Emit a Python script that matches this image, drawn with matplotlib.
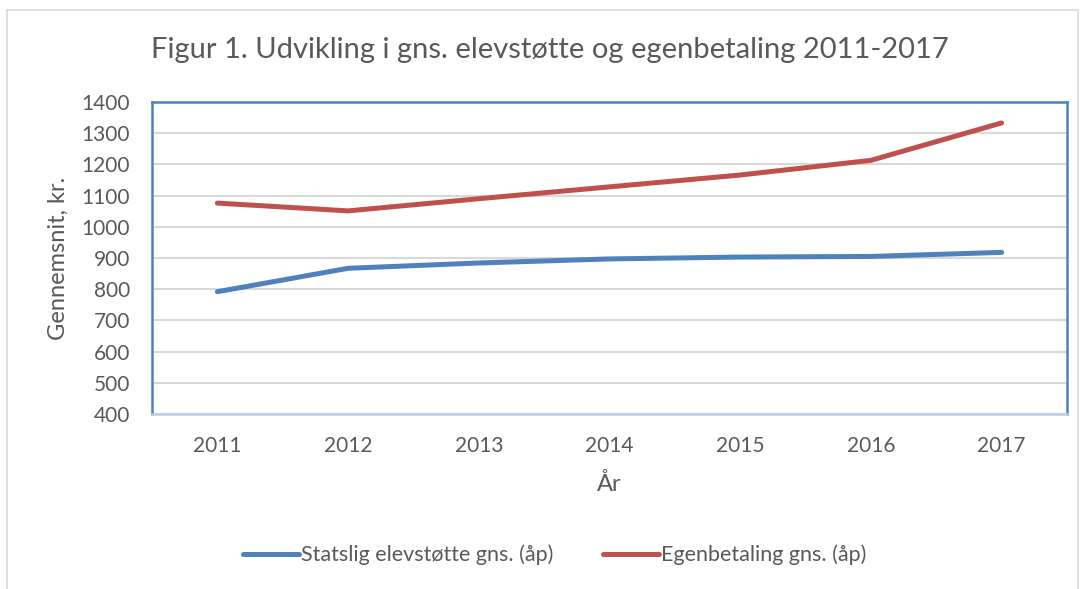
import numpy as np
import matplotlib.pyplot as plt
from matplotlib.patches import Rectangle

years = ["2011", "2012", "2013", "2014", "2015", "2016", "2017"]
statslig = [792, 867, 884, 897, 903, 905, 918]
egenbetaling = [1076, 1051, 1090, 1128, 1166, 1213, 1333]
yticks = [400, 500, 600, 700, 800, 900, 1000, 1100, 1200, 1300, 1400]

plt.rcParams['font.family'] = ['Lato', 'DejaVu Sans']
txt = '#595959'

fig = plt.figure(figsize=(10.85, 5.89), dpi=100)
fig.patches.append(Rectangle((7 / 1085, -0.01), 1071 / 1085, 1 - 10 / 589 + 0.01,
                             transform=fig.transFigure, fill=False,
                             edgecolor='#d9d9d9', linewidth=1.2))

ax = fig.add_axes([152 / 1085, 1 - 414 / 589, 915 / 1085, 312 / 589])
x = np.arange(len(years))
ax.plot(x, statslig, color='#4f81bd', linewidth=3.6, solid_capstyle='round',
        label='Statslig elevstøtte gns. (åp)', zorder=3)
ax.plot(x, egenbetaling, color='#c0504d', linewidth=3.6, solid_capstyle='round',
        label='Egenbetaling gns. (åp)', zorder=3)

ax.set_xlim(-0.5, len(years) - 0.5)
ax.set_ylim(400, 1400)
ax.set_yticks(yticks)
ax.set_xticks(x)
ax.set_xticklabels(years)
ax.grid(axis='y', color='#d9d9d9', linewidth=1.5)
ax.set_axisbelow(True)
for s in ax.spines.values():
    s.set_color('#4f81bd')
    s.set_linewidth(1.8)
ax.spines['bottom'].set_color('#b9cde5')
ax.tick_params(length=0, labelsize=15, colors=txt)
ax.tick_params(axis='y', pad=16)
ax.tick_params(axis='x', pad=16)

ax.set_ylabel('Gennemsnit, kr.', fontsize=17, color=txt, labelpad=9)
ax.set_xlabel('År', fontsize=17, color=txt, labelpad=12)
fig.text(550 / 1085, 1 - 50 / 589, 'Figur 1. Udvikling i gns. elevstøtte og egenbetaling 2011-2017',
         ha='center', va='center', fontsize=21, color=txt)

ax.legend(loc='center', bbox_to_anchor=(555 / 1085, 1 - 555 / 589),
          bbox_transform=fig.transFigure, ncol=2, frameon=False,
          fontsize=15.5, labelcolor=txt, handlelength=2.6, handletextpad=0.1,
          columnspacing=2.3)

plt.savefig('out.png', dpi=100)
